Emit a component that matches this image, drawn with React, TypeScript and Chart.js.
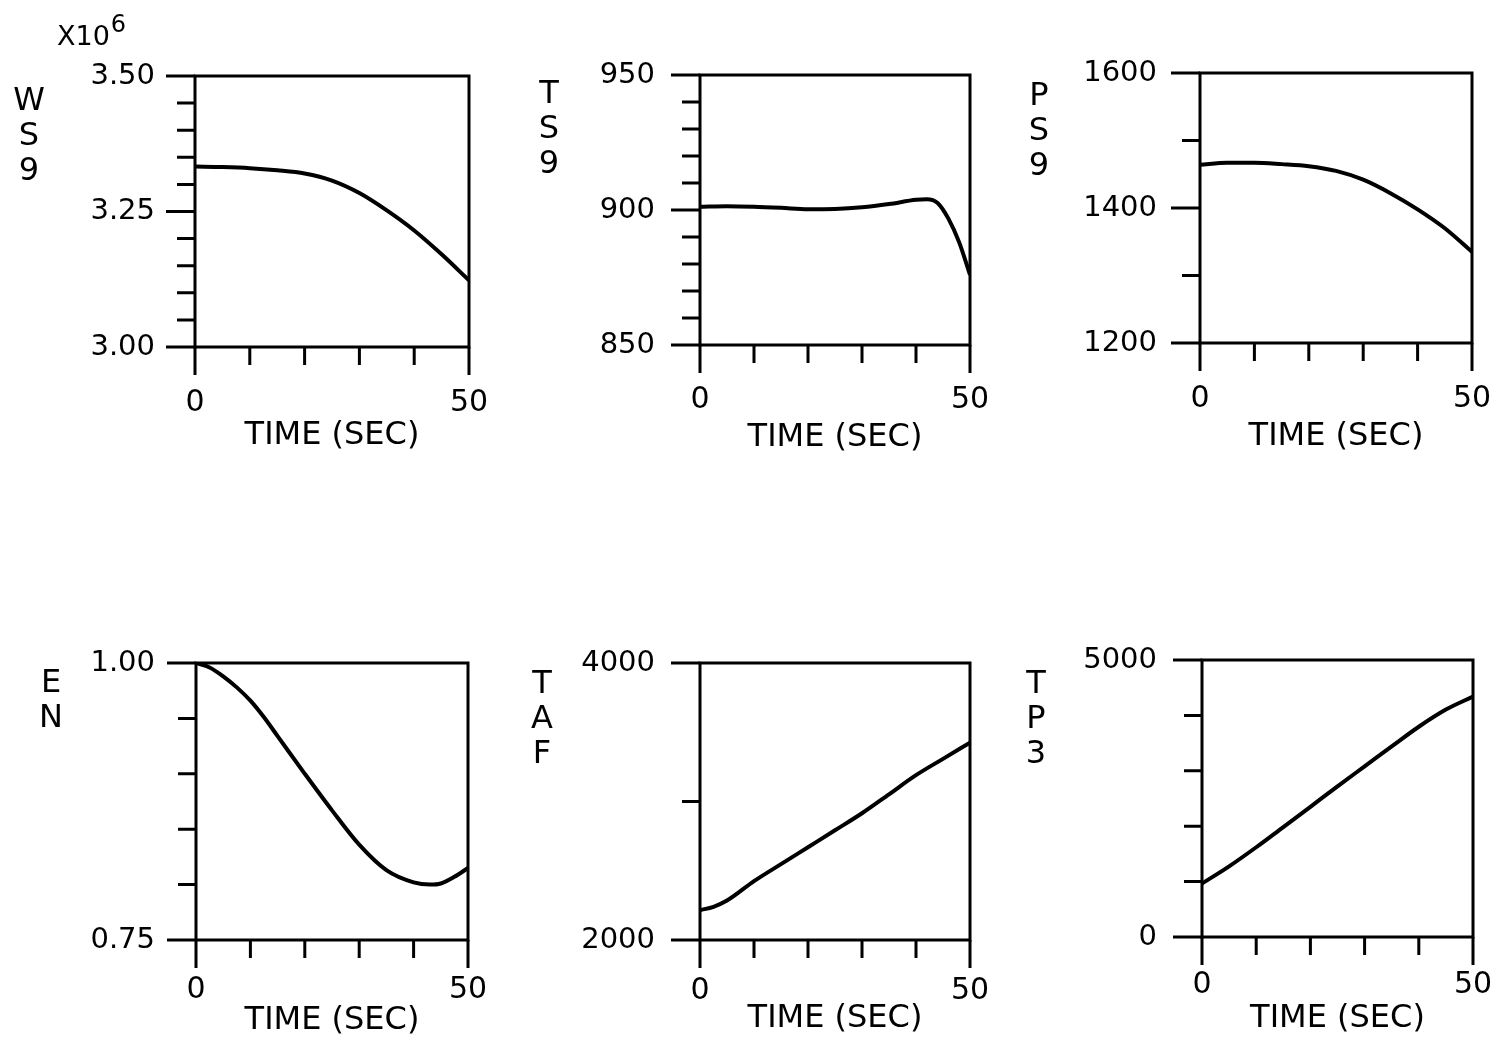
import React, { useEffect, useRef } from 'react';
import { Chart, registerables } from 'chart.js';

Chart.register(...registerables);

const FONT = "'DejaVu Sans', sans-serif";

// ---- shared x axis ----
const timeRange = [0, 50];
const timeStep = 10;
const timeLabels = [0, 50];
const timeTitle = 'TIME (SEC)';

// ---- WS9 (x10^6) ----
const ws9Time = [0, 5, 10, 15, 20, 25, 30, 35, 40, 45, 50];
const ws9Values = [3.333, 3.332, 3.33, 3.326, 3.32, 3.307, 3.284, 3.252, 3.215, 3.171, 3.123];
const ws9Range = [3.0, 3.5];
const ws9Step = 0.05;
const ws9Labels = [3.0, 3.25, 3.5];

// ---- TS9 ----
const ts9Time = [0, 5, 10, 15, 20, 25, 30, 35, 40, 42, 44, 46, 48, 50];
const ts9Values = [901.2, 901.4, 901.2, 900.8, 900.3, 900.4, 901.0, 902.2, 903.8, 904.0, 902.6, 896.8, 888.0, 876.0];
const ts9Range = [850, 950];
const ts9Step = 10;
const ts9Labels = [850, 900, 950];

// ---- PS9 ----
const ps9Time = [0, 5, 10, 15, 20, 25, 30, 35, 40, 45, 50];
const ps9Values = [1464, 1467, 1467, 1465, 1462, 1455, 1442, 1422, 1398, 1370, 1335];
const ps9Range = [1200, 1600];
const ps9Step = 100;
const ps9Labels = [1200, 1400, 1600];

// ---- EN ----
const enTime = [0, 2.5, 5, 7.5, 10, 12.5, 15, 20, 25, 30, 35, 40, 43, 45, 47.5, 50];
const enValues = [1.0, 0.996, 0.988, 0.978, 0.966, 0.951, 0.934, 0.9, 0.867, 0.836, 0.813, 0.802, 0.8, 0.801, 0.807, 0.815];
const enRange = [0.75, 1.0];
const enStep = 0.05;
const enLabels = [0.75, 1.0];

// ---- TAF ----
const tafTime = [0, 2.5, 5, 10, 15, 20, 25, 30, 35, 40, 45, 50];
const tafValues = [2215, 2240, 2285, 2425, 2548, 2670, 2792, 2915, 3052, 3190, 3308, 3425];
const tafRange = [2000, 4000];
const tafStep = 1000;
const tafLabels = [2000, 4000];

// ---- TP3 ----
const tp3Time = [0, 5, 10, 15, 20, 25, 30, 35, 40, 45, 50];
const tp3Values = [965, 1275, 1620, 1985, 2350, 2720, 3080, 3440, 3795, 4105, 4340];
const tp3Range = [0, 5000];
const tp3Step = 1000;
const tp3Labels = [0, 5000];

type PanelSpec = {
  letters: string[];
  time: number[];
  values: number[];
  range: number[];
  step: number;
  labels: number[];
  decimals: number;
  exponent?: string;
};

const PANELS: PanelSpec[] = [
  { letters: ['W', 'S', '9'], time: ws9Time, values: ws9Values, range: ws9Range, step: ws9Step, labels: ws9Labels, decimals: 2, exponent: '6' },
  { letters: ['T', 'S', '9'], time: ts9Time, values: ts9Values, range: ts9Range, step: ts9Step, labels: ts9Labels, decimals: 0 },
  { letters: ['P', 'S', '9'], time: ps9Time, values: ps9Values, range: ps9Range, step: ps9Step, labels: ps9Labels, decimals: 0 },
  { letters: ['E', 'N'], time: enTime, values: enValues, range: enRange, step: enStep, labels: enLabels, decimals: 2 },
  { letters: ['T', 'A', 'F'], time: tafTime, values: tafValues, range: tafRange, step: tafStep, labels: tafLabels, decimals: 0 },
  { letters: ['T', 'P', '3'], time: tp3Time, values: tp3Values, range: tp3Range, step: tp3Step, labels: tp3Labels, decimals: 0 },
];

// page layout of each plot area (left, right, top, bottom) and text offsets
const LAYOUT = [
  { L: 195, R: 469, T: 76, B: 347, xAxisH: 112, xPad: 38, yPad: 40, dx: -166, dy: 34 },
  { L: 700, R: 970, T: 75, B: 345, xAxisH: 116, xPad: 37, yPad: 45, dx: -151, dy: 28 },
  { L: 1200, R: 1472, T: 73, B: 343, xAxisH: 117, xPad: 38, yPad: 43, dx: -161, dy: 32 },
  { L: 196, R: 468, T: 663, B: 940, xAxisH: 104, xPad: 32, yPad: 41, dx: -145, dy: 29 },
  { L: 700, R: 970, T: 663, B: 940, xAxisH: 102, xPad: 33, yPad: 45, dx: -158, dy: 30 },
  { L: 1202, R: 1473, T: 660, B: 937, xAxisH: 105, xPad: 30, yPad: 45, dx: -166, dy: 33 },
];

const AXIS_W = 190;
const TOP_PAD = 76;
const RIGHT_PAD = 30;

const framePlugin = {
  id: 'frame',
  afterDraw(chart: any, _args: any, opts: any) {
    const { ctx, chartArea: a } = chart;
    const xs = chart.scales.x;
    const ys = chart.scales.y;
    ctx.save();
    ctx.strokeStyle = '#000';
    ctx.lineWidth = 3;
    ctx.lineCap = 'butt';
    ctx.lineJoin = 'miter';
    ctx.strokeRect(a.left, a.top, a.right - a.left, a.bottom - a.top);
    ctx.beginPath();
    ys.ticks.forEach((t: any) => {
      const y = ys.getPixelForValue(t.value);
      const len = t.label !== '' ? 29 : 18;
      ctx.moveTo(a.left - len, y);
      ctx.lineTo(a.left, y);
    });
    xs.ticks.forEach((t: any) => {
      const x = xs.getPixelForValue(t.value);
      const end = t.value === xs.min || t.value === xs.max;
      const len = end ? 28 : 18;
      ctx.moveTo(x, a.bottom);
      ctx.lineTo(x, a.bottom + len);
    });
    ctx.stroke();

    ctx.fillStyle = '#000';
    ctx.font = `32px ${FONT}`;
    ctx.textAlign = 'center';
    ctx.textBaseline = 'alphabetic';
    (opts.letters || []).forEach((ch: string, i: number) => {
      ctx.fillText(ch, a.left + opts.dx, a.top + opts.dy + i * 35);
    });
    if (opts.exponent) {
      ctx.textAlign = 'left';
      ctx.font = `27px ${FONT}`;
      const base = 'X10';
      const bx = a.left - 138;
      ctx.fillText(base, bx, a.top - 31);
      const w = ctx.measureText(base).width;
      ctx.font = `24px ${FONT}`;
      ctx.fillText(opts.exponent, bx + w + 1, a.top - 44);
    }
    ctx.restore();
  },
};

function Panel({ spec, lay }: { spec: PanelSpec; lay: (typeof LAYOUT)[number] }) {
  const ref = useRef<HTMLCanvasElement | null>(null);
  const width = AXIS_W + (lay.R - lay.L) + RIGHT_PAD;
  const height = TOP_PAD + (lay.B - lay.T) + lay.xAxisH;

  useEffect(() => {
    if (!ref.current) return;
    const near = (v: number, list: number[]) => list.some((l) => Math.abs(l - v) < 1e-6);
    const chart = new Chart(ref.current, {
      type: 'line',
      data: {
        datasets: [
          {
            data: spec.time.map((t, i) => ({ x: t, y: spec.values[i] })),
            borderColor: '#000',
            borderWidth: 4,
            pointRadius: 0,
            fill: false,
            cubicInterpolationMode: 'monotone',
          },
        ],
      },
      options: {
        animation: false,
        responsive: false,
        maintainAspectRatio: false,
        devicePixelRatio: 1,
        events: [],
        layout: { padding: { top: TOP_PAD, right: RIGHT_PAD, left: 0, bottom: 0 }, autoPadding: false },
        plugins: {
          legend: { display: false },
          tooltip: { enabled: false },
          frame: { letters: spec.letters, dx: lay.dx, dy: lay.dy, exponent: spec.exponent },
        } as any,
        scales: {
          x: {
            type: 'linear',
            position: 'bottom',
            min: timeRange[0],
            max: timeRange[1],
            grid: { display: false, drawTicks: false, tickLength: 0 },
            border: { display: false },
            ticks: {
              stepSize: timeStep,
              autoSkip: false,
              maxRotation: 0,
              padding: lay.xPad,
              color: '#000',
              font: { family: FONT, size: 30 },
              callback: (v: any) => (near(Number(v), timeLabels) ? String(v) : ''),
            },
            title: {
              display: true,
              text: timeTitle,
              color: '#000',
              font: { family: FONT, size: 32 },
              padding: { top: 0, bottom: 4 },
            },
            afterFit: (s: any) => {
              s.height = lay.xAxisH;
              s.paddingLeft = 0;
              s.paddingRight = 0;
            },
          },
          y: {
            type: 'linear',
            position: 'left',
            min: spec.range[0],
            max: spec.range[1],
            grid: { display: false, drawTicks: false, tickLength: 0 },
            border: { display: false },
            ticks: {
              stepSize: spec.step,
              autoSkip: false,
              padding: lay.yPad,
              color: '#000',
              font: { family: FONT, size: 29 },
              callback: (v: any) => (near(Number(v), spec.labels) ? Number(v).toFixed(spec.decimals) : ''),
            },
            afterFit: (s: any) => {
              s.width = AXIS_W;
              s.paddingTop = 0;
              s.paddingBottom = 0;
            },
          },
        },
      } as any,
      plugins: [framePlugin as any],
    });
    return () => chart.destroy();
  }, [spec, lay]);

  return (
    <canvas
      ref={ref}
      width={width}
      height={height}
      style={{
        position: 'absolute',
        left: lay.L - AXIS_W,
        top: lay.T - TOP_PAD,
        width,
        height,
        display: 'block',
      }}
    />
  );
}

export default function App() {
  return (
    <div
      style={{
        position: 'absolute',
        left: 0,
        top: 0,
        width: 1503,
        height: 1044,
        overflow: 'hidden',
        background: '#fff',
      }}
    >
      {PANELS.map((p, i) => (
        <Panel key={i} spec={p} lay={LAYOUT[i]} />
      ))}
    </div>
  );
}
